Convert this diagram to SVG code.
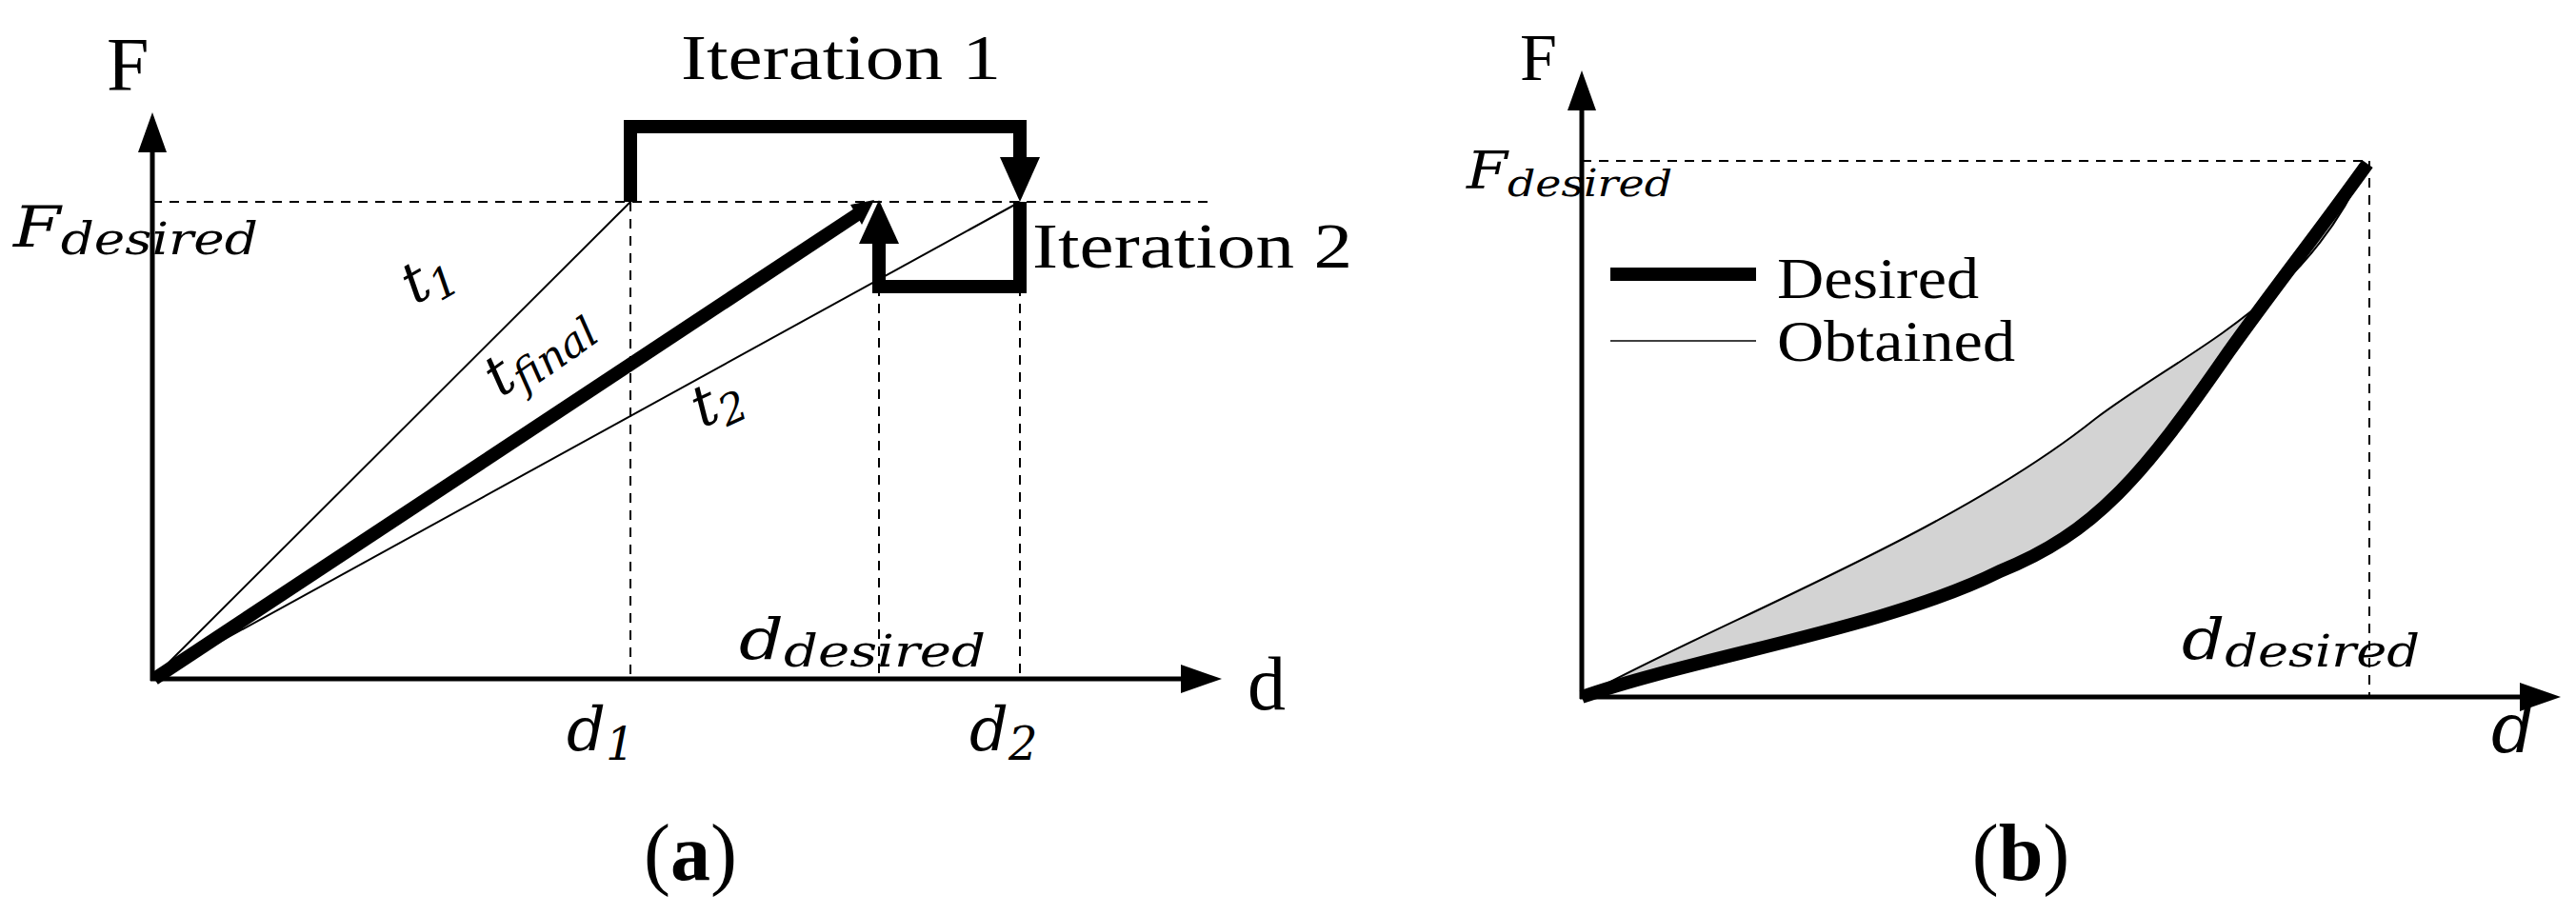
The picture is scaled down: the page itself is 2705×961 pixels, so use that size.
<svg xmlns="http://www.w3.org/2000/svg" width="2705" height="961" viewBox="0 0 2705 961">
<defs>
<style>
.t{font-family:"Liberation Serif",serif;fill:#000}
.m{font-family:"DejaVu Serif","Liberation Serif",serif;font-style:italic;fill:#000}
.ax{stroke:#000;stroke-width:5;fill:none}
.th{stroke:#000;stroke-width:2;fill:none;stroke-linejoin:round}
.tk{stroke:#000;stroke-width:14;fill:none}
.ds{stroke:#000;stroke-width:2;stroke-dasharray:10,8;fill:none}
</style>
</defs>
<rect width="2705" height="961" fill="#fff"/>
<g id="connectors">
<line class="ax" x1="160" y1="715" x2="160" y2="150"/>
<path d="M145,160 L160,118 L175,160 z"/>
<line class="ax" x1="158" y1="713" x2="1245" y2="713"/>
<path d="M1240,698 L1283,713 L1240,728 z"/>
<line class="ds" x1="160" y1="212" x2="1268" y2="212"/>
<line class="ds" x1="662" y1="212" x2="662" y2="713"/>
<line class="ds" x1="923" y1="301" x2="923" y2="713"/>
<line class="ds" x1="1071" y1="301" x2="1071" y2="713"/>
<line class="th" x1="160" y1="713" x2="662" y2="212"/>
<line class="th" x1="160" y1="713" x2="1071" y2="212"/>
<line class="tk" x1="162" y1="713" x2="905" y2="222"/>
<path d="M893,215 L918,210 L905,236 z"/>
<polyline class="tk" points="662,212 662,133 1071,133 1071,170"/>
<path d="M1050,165 L1071,212 L1092,165 z"/>
<polyline class="tk" points="1071,212 1071,301 923,301 923,250"/>
<path d="M902,256 L923,210 L944,256 z"/>
<line class="ax" x1="1661" y1="734" x2="1661" y2="110"/>
<path d="M1646,116 L1661,74 L1676,116 z"/>
<line class="ax" x1="1659" y1="732" x2="2650" y2="732"/>
<path d="M2646,717 L2689,732 L2646,747 z"/>
<line class="ds" x1="1661" y1="169" x2="2488" y2="169"/>
<line class="ds" x1="2488" y1="169" x2="2488" y2="732"/>
<path d="M1661,732 C1800,655 2050,560 2200,440 C2300,365 2420,320 2484,174 C2430,250 2390,300 2340,370 C2250,500 2200,560 2100,600 C1950,665 1780,690 1661,732 z" fill="#d3d3d3"/>
<path class="th" d="M1661,732 C1800,655 2050,560 2200,440 C2300,365 2420,320 2484,174"/>
<path class="tk" stroke-width="12" d="M1661,732 C1780,690 1980,660 2100,600 C2200,560 2250,500 2340,370 C2390,300 2430,250 2486,172"/>
<line x1="1691" y1="288" x2="1844" y2="288" stroke="#000" stroke-width="14"/>
<line x1="1691" y1="358" x2="1844" y2="358" stroke="#000" stroke-width="1.5"/>
</g>
<g id="labels">
<text class="t" x="715" y="83" font-size="68" textLength="336" lengthAdjust="spacingAndGlyphs">Iteration 1</text>
<text class="t" x="1084" y="281" font-size="68" textLength="336" lengthAdjust="spacingAndGlyphs">Iteration 2</text>
<text class="t" x="112" y="95" font-size="80">F</text>
<text class="m" x="14" y="259" font-size="60" textLength="257" lengthAdjust="spacingAndGlyphs">F<tspan font-size="46" dy="8">desired</tspan></text>
<text class="m" x="425" y="310" font-size="60" transform="rotate(-30 450 295)">t<tspan font-size="44" dy="10">1</tspan></text>
<text class="m" x="505" y="390" font-size="60" transform="rotate(-35 560 371)">t<tspan font-size="44" dy="10">final</tspan></text>
<text class="m" x="728" y="438" font-size="60" transform="rotate(-25 759 423)">t<tspan font-size="44" dy="10">2</tspan></text>
<text class="m" x="776" y="692" font-size="60" textLength="259" lengthAdjust="spacingAndGlyphs">d<tspan font-size="46" dy="8">desired</tspan></text>
<text class="m" x="595" y="788" font-size="64">d<tspan font-size="48" dy="10">1</tspan></text>
<text class="m" x="1018" y="788" font-size="64">d<tspan font-size="48" dy="10">2</tspan></text>
<text class="t" x="1310" y="745" font-size="80">d</text>
<text class="t" x="725" y="924" font-size="84" text-anchor="middle">(<tspan font-weight="bold">a</tspan>)</text>
<text class="t" x="1596" y="84" font-size="70">F</text>
<text class="m" x="1540" y="198" font-size="54" textLength="216" lengthAdjust="spacingAndGlyphs">F<tspan font-size="40" dy="8">desired</tspan></text>
<text class="t" x="1866" y="313" font-size="62" textLength="212" lengthAdjust="spacingAndGlyphs">Desired</text>
<text class="t" x="1866" y="379" font-size="62" textLength="250" lengthAdjust="spacingAndGlyphs">Obtained</text>
<text class="m" x="2291" y="692" font-size="60" textLength="250" lengthAdjust="spacingAndGlyphs">d<tspan font-size="46" dy="8">desired</tspan></text>
<text class="m" x="2616" y="790" font-size="72">d</text>
<text class="t" x="2122" y="924" font-size="84" text-anchor="middle">(<tspan font-weight="bold">b</tspan>)</text>
</g>
</svg>
